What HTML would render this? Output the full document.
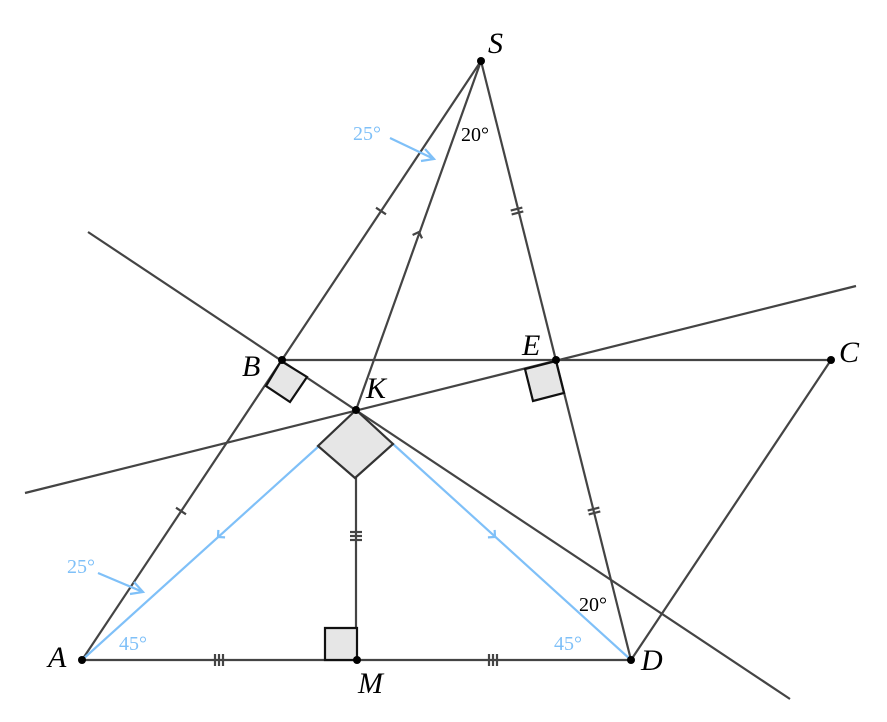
<!DOCTYPE html>
<html><head><style>body{margin:0;background:#fff}svg{display:block}
.l{stroke:#444;stroke-width:2.2;fill:none}
.b{stroke:#7fc0f8;stroke-width:2.2;fill:none}
.t{font-family:"Liberation Serif",serif;font-style:italic;font-size:30px;fill:#000}
.n{font-family:"Liberation Serif",serif;font-size:20px}
</style></head><body>
<svg width="887" height="722" viewBox="0 0 887 722">
<line class="l" x1="82" y1="660" x2="481" y2="61"/>
<line class="l" x1="481" y1="61" x2="631" y2="660"/>
<line class="l" x1="481" y1="61" x2="356" y2="410"/>
<line class="l" x1="88" y1="232" x2="790" y2="699"/>
<line class="l" x1="25" y1="493" x2="856" y2="286"/>
<line class="l" x1="282" y1="360" x2="831" y2="360"/>
<line class="l" x1="831" y1="360" x2="631" y2="660"/>
<line class="l" x1="82" y1="660" x2="631" y2="660"/>
<line class="l" x1="356" y1="410" x2="356" y2="660"/>
<line class="b" x1="319" y1="446" x2="82" y2="660"/>
<line class="b" x1="393" y1="444" x2="631" y2="660"/>
<polygon points="281,361 307,377 290,402 266,386" fill="#e6e6e6" stroke="#111" stroke-width="2.2"/>
<polygon points="556,361 564,393 533,401 525,369" fill="#e6e6e6" stroke="#111" stroke-width="2.2"/>
<polygon points="356,410 393,444 355,478 318,446" fill="#e6e6e6" stroke="#333" stroke-width="2.2"/>
<polygon points="325,628 357,628 357,660 325,660" fill="#e6e6e6" stroke="#111" stroke-width="2.2"/>
<g class="l">
<g transform="translate(381,211) rotate(-56.3)"><line x1="0" y1="-6" x2="0" y2="6"/></g>
<g transform="translate(181,511) rotate(-56.3)"><line x1="0" y1="-6" x2="0" y2="6"/></g>
<g transform="translate(517,211) rotate(75.9)"><line x1="-2" y1="-6" x2="-2" y2="6"/><line x1="2" y1="-6" x2="2" y2="6"/></g>
<g transform="translate(594,511) rotate(75.9)"><line x1="-2" y1="-6" x2="-2" y2="6"/><line x1="2" y1="-6" x2="2" y2="6"/></g>
<g transform="translate(219,660)"><line x1="-4" y1="-6" x2="-4" y2="6"/><line x1="0" y1="-6" x2="0" y2="6"/><line x1="4" y1="-6" x2="4" y2="6"/></g>
<g transform="translate(493,660)"><line x1="-4" y1="-6" x2="-4" y2="6"/><line x1="0" y1="-6" x2="0" y2="6"/><line x1="4" y1="-6" x2="4" y2="6"/></g>
<g transform="translate(356,536) rotate(90)"><line x1="-4" y1="-6" x2="-4" y2="6"/><line x1="0" y1="-6" x2="0" y2="6"/><line x1="4" y1="-6" x2="4" y2="6"/></g>
<g transform="translate(419,232) rotate(-70.3)"><path d="M-5,-5 L0,0 L-5,5"/></g>
</g>
<g class="b">
<g transform="translate(218,537) rotate(137.9)"><path d="M-5,-5 L0,0 L-5,5"/></g>
<g transform="translate(495,537) rotate(42.2)"><path d="M-5,-5 L0,0 L-5,5"/></g>
<line x1="390" y1="138" x2="434" y2="159"/><path d="M425,149 L434,159 L421,161"/>
<line x1="98" y1="573" x2="143" y2="592"/><path d="M134,582 L143,592 L130,594"/>
</g>
<g fill="#000">
<circle cx="481" cy="61" r="4"/><circle cx="82" cy="660" r="4"/><circle cx="631" cy="660" r="4"/>
<circle cx="357" cy="660" r="4"/><circle cx="356" cy="410" r="4"/><circle cx="282" cy="360" r="4"/>
<circle cx="556" cy="360" r="4"/><circle cx="831" cy="360" r="4"/>
</g>
<text class="t" x="488" y="53">S</text>
<text class="t" x="242" y="376">B</text>
<text class="t" x="522" y="355">E</text>
<text class="t" x="839" y="362">C</text>
<text class="t" x="366" y="398">K</text>
<text class="t" x="48" y="667">A</text>
<text class="t" x="641" y="670">D</text>
<text class="t" x="358" y="693">M</text>
<text class="n" x="461" y="141">20°</text>
<text class="n" x="579" y="611">20°</text>
<text class="n" x="353" y="140" fill="#7fc0f8">25°</text>
<text class="n" x="67" y="573" fill="#7fc0f8">25°</text>
<text class="n" x="119" y="650" fill="#7fc0f8">45°</text>
<text class="n" x="554" y="650" fill="#7fc0f8">45°</text>
</svg>
</body></html>
